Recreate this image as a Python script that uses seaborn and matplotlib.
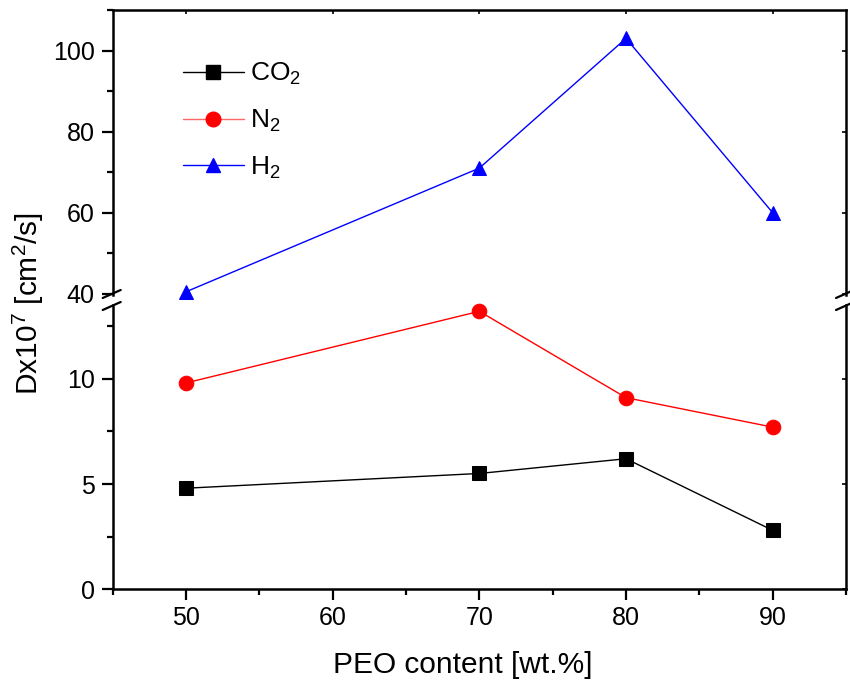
import matplotlib
matplotlib.use("Agg")
import matplotlib.pyplot as plt
import seaborn as sns
import pandas as pd
from matplotlib.lines import Line2D
from matplotlib.ticker import MultipleLocator

sns.set_style("ticks")
plt.rcParams['font.family'] = ['Liberation Sans', 'DejaVu Sans']
plt.rcParams['mathtext.fontset'] = 'custom'
plt.rcParams['mathtext.rm'] = 'Liberation Sans'
plt.rcParams['mathtext.it'] = 'Liberation Sans'
plt.rcParams['text.color'] = 'black'
plt.rcParams['axes.labelcolor'] = 'black'
plt.rcParams['xtick.color'] = 'black'
plt.rcParams['ytick.color'] = 'black'
plt.rcParams['axes.edgecolor'] = 'black'

# ---- data ----
peo = [50, 70, 80, 90]
co2 = [4.8, 5.5, 6.2, 2.8]
n2 = [9.8, 13.2, 9.1, 7.7]
h2 = [40.5, 71.0, 103.0, 60.0]
labels = ["CO$_2$", "N$_2$", "H$_2$"]
colors = ["black", "red", "blue"]
markers = ["s", "o", "^"]
x_ticks = [50, 60, 70, 80, 90]
lower_ticks = [0, 5, 10]
upper_ticks = [40, 60, 80, 100]

df = pd.DataFrame({
    "PEO": peo * 3,
    "D": co2 + n2 + h2,
    "gas": [labels[0]] * 4 + [labels[1]] * 4 + [labels[2]] * 4,
})

W, H = 850, 691
fig = plt.figure(figsize=(W / 100, H / 100), dpi=100)
left = 112.7 / W
right = 846 / W
ax_up = fig.add_axes([left, 1 - 295 / H, right - left, (295 - 10) / H])
ax_lo = fig.add_axes([left, 1 - 589.3 / H, right - left, (589.3 - 305) / H])

msize = {"s": 9.5, "o": 10.5, "^": 10.5}
where = [ax_lo, ax_lo, ax_up]
for ax, lab, c, m in zip(where, labels, colors, markers):
    sub = df[df["gas"] == lab]
    sns.lineplot(data=sub, x="PEO", y="D", ax=ax, color=c, marker=m,
                 markersize=msize[m], markeredgecolor=c, linewidth=1.0,
                 legend=False, clip_on=False, zorder=5)

for ax in (ax_up, ax_lo):
    ax.set_xlim(45, 95)
    ax.set_xlabel("")
    ax.set_ylabel("")
    for s in ax.spines.values():
        s.set_linewidth(1.8)
    ax.tick_params(axis="both", which="major", direction="out", length=8,
                   width=1.6, labelsize=18, color="black", pad=5)
    ax.tick_params(axis="both", which="minor", direction="out", length=4.5,
                   width=1.6, color="black")

ax_up.set_ylim(39.7, 110)
ax_lo.set_ylim(0, 13.5)
ax_up.set_yticks(upper_ticks)
ax_up.yaxis.set_minor_locator(MultipleLocator(10))
ax_lo.set_yticks(lower_ticks)
ax_lo.yaxis.set_minor_locator(MultipleLocator(2.5))
ax_lo.set_xticks(x_ticks)
ax_lo.xaxis.set_minor_locator(MultipleLocator(5))
ax_lo.tick_params(axis="x", which="major", pad=4)

ax_up.spines["bottom"].set_visible(False)
ax_up.tick_params(axis="x", which="both", bottom=False, labelbottom=False)
ax_lo.spines["top"].set_visible(False)

# mirrored inward ticks on right and top
for ax, yl in ((ax_up, upper_ticks), (ax_lo, lower_ticks)):
    sec = ax.secondary_yaxis("right")
    sec.set_yticks(yl)
    sec.tick_params(direction="in", length=3, width=1.2, labelright=False)
    sec.spines["right"].set_visible(False)
top = ax_up.secondary_xaxis("top")
top.set_xticks(x_ticks)
top.tick_params(direction="in", length=3, width=1.2, labeltop=False)
top.spines["top"].set_visible(False)

# break marks
def brk(xp, yp):
    x0, x1 = (xp - 10) / W, (xp + 8) / W
    fig.add_artist(Line2D([x0, x1], [1 - (yp + 4) / H, 1 - (yp - 4) / H],
                          color="black", lw=1.6, transform=fig.transFigure))

for xp in (112.7, 846):
    brk(xp, 294)
    brk(xp, 306)

# legend
handles = [Line2D([], [], color=c, marker=m, markersize=msize[m], lw=1.0)
           for c, m in zip(colors, markers)]
handles[1].set_color("#ff6666")
handles[1].set_markerfacecolor("red")
handles[1].set_markeredgecolor("red")
ax_up.legend(handles, labels, loc="upper left", frameon=False,
             bbox_to_anchor=(183 / W, 1 - 61 / H), bbox_transform=fig.transFigure,
             fontsize=19, handlelength=2.3, handletextpad=0.25, labelspacing=0.78,
             borderpad=0, borderaxespad=0)

fig.text(28 / W, 1 - 304 / H, "Dx10$^7$ [cm$^2$/s]", rotation=90,
         ha="center", va="center", fontsize=21.5)
fig.text(463 / W, 1 - 665 / H, "PEO content [wt.%]", ha="center", va="center",
         fontsize=21.5)

fig.savefig("out.png", dpi=100)
